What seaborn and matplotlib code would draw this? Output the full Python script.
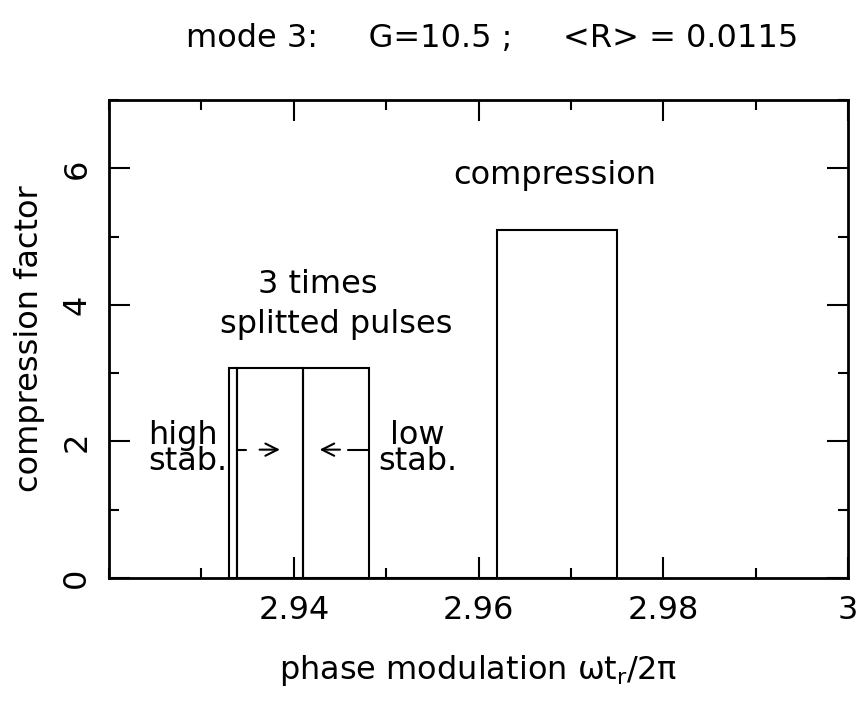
import numpy as np
import seaborn as sns
import matplotlib.pyplot as plt
from matplotlib.ticker import MultipleLocator

###################
# Data
bin_edges = [2.9330, 2.9339, 2.9410, 2.9481, 2.9620, 2.9750]
bin_heights = [3.07, 3.07, 3.07, 0.0, 5.10]
x_ticks = [2.94, 2.96, 2.98, 3.0]
x_tick_labels = ["2.94", "2.96", "2.98", "3"]
y_ticks = [0, 2, 4, 6]

centers = [(a + b) / 2 for a, b in zip(bin_edges[:-1], bin_edges[1:])]

###################
# Setup
sns.set_style("ticks")
plt.rcParams["font.family"] = ["DejaVu Sans"]
plt.rcParams["mathtext.fontset"] = "dejavusans"
plt.rcParams["text.color"] = "black"
plt.rcParams["axes.labelcolor"] = "black"
fs = 23

fig = plt.figure(figsize=(8.61, 7.02), dpi=100)
ax = fig.add_axes([0.1266, 0.1766, 0.8584, 0.6809])

sns.histplot(x=centers, weights=bin_heights, bins=bin_edges, ax=ax,
             fill=False, element="bars", color="black", linewidth=1.5)

ax.set_xlim(2.92, 3.0)
ax.set_ylim(0, 7)
ax.set_xticks(x_ticks)
ax.set_xticklabels(x_tick_labels)
ax.set_yticks(y_ticks)
ax.xaxis.set_minor_locator(MultipleLocator(0.01))
ax.yaxis.set_minor_locator(MultipleLocator(1))
ax.tick_params(which="both", direction="in", top=True, right=True, width=1.5,
               colors="black", labelcolor="black")
ax.tick_params(which="major", length=15, labelsize=fs, pad=12)
ax.tick_params(which="minor", length=7.5)
ax.tick_params(axis="y", labelrotation=90)
for lab in ax.get_yticklabels():
    lab.set_va("center")
for s in ax.spines.values():
    s.set_linewidth(2)
    s.set_color("black")

ax.set_ylabel("compression factor", fontsize=fs, labelpad=12)
ax.set_xlabel(r"phase modulation ω$\mathregular{t_r}$/2π", fontsize=fs, labelpad=20)

fig.text(0.571, 0.945, "mode 3:     G=10.5 ;     <R> = 0.0115", fontsize=fs,
         ha="center", va="center")

###################
# Annotations
ax.text(2.9426, 4.3, "3 times", fontsize=fs, ha="center", va="center")
ax.text(2.9446, 3.72, "splitted pulses", fontsize=fs, ha="center", va="center")
ax.text(2.9683, 5.89, "compression", fontsize=fs, ha="center", va="center")
ax.text(2.9242, 1.9, "high\nstab.", fontsize=fs, ha="left", va="center",
        linespacing=0.8)
ax.text(2.9534, 1.9, "low\nstab.", fontsize=fs, ha="center", va="center",
        linespacing=0.8)

# dashed lead-in plus solid arrow, both pointing at the middle bar
arrow_y = 1.88
ax.plot([2.9339, 2.9348], [arrow_y, arrow_y], color="black", lw=1.5)
ax.plot([2.9481, 2.9459], [arrow_y, arrow_y], color="black", lw=1.5)
arrow_kw = dict(arrowstyle="->", color="black", lw=1.5,
                shrinkA=0, shrinkB=0, mutation_scale=22)
ax.annotate("", xy=(2.9385, arrow_y), xytext=(2.9363, arrow_y), arrowprops=arrow_kw)
ax.annotate("", xy=(2.9428, arrow_y), xytext=(2.9450, arrow_y), arrowprops=arrow_kw)

###################
# Export
fig.savefig("out.png", dpi=100)
